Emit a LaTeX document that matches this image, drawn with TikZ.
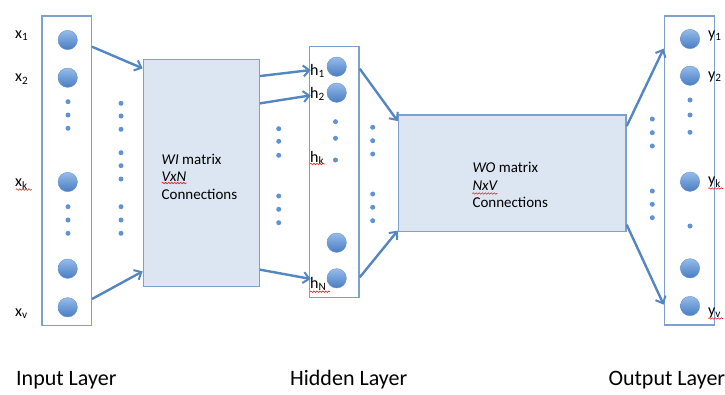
\documentclass[tikz,border=0pt]{standalone}
\usepackage{fontspec}
\setmainfont{Carlito}
\usetikzlibrary{arrows.meta,calc,decorations.pathmorphing}
\definecolor{boxline}{RGB}{125,160,207}
\definecolor{matfill}{RGB}{220,230,242}
\definecolor{arrowc}{RGB}{84,134,194}
\definecolor{balltop}{RGB}{150,188,234}
\definecolor{ballbot}{RGB}{72,124,194}
\definecolor{dotc}{RGB}{96,146,212}
\definecolor{squig}{RGB}{220,40,40}
\tikzset{
  layerbox/.style={draw=boxline, line width=1.3pt, fill=white, inner sep=0pt},
  matbox/.style={draw=boxline, line width=1.3pt, fill=matfill, inner sep=0pt},
  neuron/.style={circle, minimum size=19.4pt, inner sep=0pt, top color=balltop, bottom color=ballbot, draw=ballbot!80!white, line width=0.4pt},
  conn/.style={draw=arrowc, line width=2.4pt, -{Straight Barb[length=6pt,width=11pt,line width=2pt]}},
  lbl/.style={anchor=base west, inner sep=0pt, font=\fontsize{16}{18}\selectfont},
  mattext/.style={align=left, anchor=west, inner sep=0pt, font=\fontsize{15}{17.5}\selectfont},
  layerlbl/.style={anchor=base west, inner sep=0pt, font=\fontsize{22}{26}\selectfont},
  squiggle/.style={draw=squig, line width=0.6pt, decorate, decoration={snake, segment length=3pt, amplitude=0.8pt}}
}
\newcommand{\dotcol}[2]{\foreach \yy in {#2} {\fill[dotc] (#1,\yy) circle (2.5);}}
\begin{document}
\begin{tikzpicture}[x=1pt,y=-1pt]
\useasboundingbox (0,0) rectangle (725,394);

% boxes
\node[layerbox, minimum width=49.3pt, minimum height=309.7pt] (inbox) at (66.7,170.9) {};
\node[matbox, minimum width=116pt, minimum height=227.4pt] (wi) at (201.3,173) {};
\node[layerbox, minimum width=49.7pt, minimum height=251pt] (hidbox) at (334.2,172.2) {};
\node[matbox, minimum width=227.7pt, minimum height=116.7pt] (wo) at (512.2,173.4) {};
\node[layerbox, minimum width=50pt, minimum height=309pt] (outbox) at (689.3,170.5) {};

% input neurons
\node[neuron] (i1) at (67.7,40) {};
\node[neuron] (i2) at (67.7,77.7) {};
\node[neuron] (ik) at (67.7,182) {};
\node[neuron] (im) at (67.7,268.7) {};
\node[neuron] (iv) at (67.7,307.3) {};
\dotcol{68}{101.7,115,128.3,206.7,220,233.3}
\dotcol{121}{103.3,116,129.3,152.7,165.7,179,206.7,220,233.3}

% hidden neurons
\node[neuron] (h1) at (336.7,66.7) {};
\node[neuron] (h2) at (336.7,92.7) {};
\node[neuron] (hm) at (336.7,242.7) {};
\node[neuron] (hN) at (336.7,278.3) {};
\dotcol{335.5}{121.7,138.3,160}
\dotcol{278.7}{128.7,141.3,155.3,196,209.3,222.7}
\dotcol{372.7}{127.3,140.7,154,194,207.3,220.7}

% output neurons
\node[neuron] (o1) at (690,39) {};
\node[neuron] (o2) at (690,75.7) {};
\node[neuron] (ok) at (690,181.7) {};
\node[neuron] (om) at (690,268.3) {};
\node[neuron] (ov) at (690,306) {};
\dotcol{690}{100,115,132.3,226}
\dotcol{652.3}{119,132.7,146,191,204.3,217.7}

% matrix texts
\node[mattext] (witext) at (161.5,176.5) {\textit{WI} matrix\\\textit{VxN}\\Connections};
\node[mattext] (wotext) at (472.3,185) {\textit{WO} matrix\\\textit{NxV}\\Connections};

% labels
\node[lbl] (lx1) at (15,38.3) {x\textsubscript{1}};
\node[lbl] (lx2) at (15,81.7) {x\textsubscript{2}};
\node[lbl] (lxk) at (15,186.5) {x\textsubscript{k}};
\node[lbl] (lxv) at (15,316) {x\textsubscript{v}};
\node[lbl] (lh1) at (310,75) {h\textsubscript{1}};
\node[lbl] (lh2) at (310,98) {h\textsubscript{2}};
\node[lbl] (lhk) at (310,162) {h\textsubscript{k}};
\node[lbl] (lhN) at (310,288) {h\textsubscript{N}};
\node[lbl] (ly1) at (708,38) {y\textsubscript{1}};
\node[lbl] (ly2) at (708,79) {y\textsubscript{2}};
\node[lbl] (lyk) at (708,184.5) {y\textsubscript{k}};
\node[lbl] (lyv) at (708,315) {y\textsubscript{v}};

% spell-check squiggles
\draw[squiggle] (16,189.5) -- (31.7,189.5);
\draw[squiggle] (161.7,183) -- (186.7,183);
\draw[squiggle] (310,164) -- (325,164);
\draw[squiggle] (310,291.7) -- (330,291.7);
\draw[squiggle] (472.3,193.5) -- (497.3,193.5);
\draw[squiggle] (708.3,188.5) -- (723.3,188.5);
\draw[squiggle] (708.3,318.5) -- (723.3,318.5);

% layer labels
\node[layerlbl] (linput) at (16,385.7) {Input Layer};
\node[layerlbl] (lhidden) at (290,385.7) {Hidden Layer};
\node[layerlbl] (loutput) at (608.3,385.7) {Output Layer};

% connectors
\draw[conn] ($(inbox.north east)+(0,31.3)$) -- ($(wi.north west)+(0,9.7)$);
\draw[conn] ($(inbox.south east)+(0,-27.4)$) -- ($(wi.south west)+(0,-16)$);
\draw[conn] ($(wi.north east)+(0,17.4)$) -- ($(hidbox.north west)+(2,24)$);
\draw[conn] ($(wi.north east)+(0,44.7)$) -- ($(hidbox.north west)+(2,49.3)$);
\draw[conn] ($(wi.south east)+(0,-17.7)$) -- ($(hidbox.south west)+(2,-19.4)$);
\draw[conn] ($(hidbox.north east)+(0,22.6)$) -- ($(wo.north west)+(0,6.7)$);
\draw[conn] ($(hidbox.south east)+(0,-21)$) -- ($(wo.south west)+(0,-1.7)$);
\draw[conn] ($(wo.north east)+(0,11.7)$) -- ($(outbox.north west)+(0,33.3)$);
\draw[conn] ($(wo.south east)+(0,-7.7)$) -- ($(outbox.south west)+(0,-21)$);
\end{tikzpicture}
\end{document}
